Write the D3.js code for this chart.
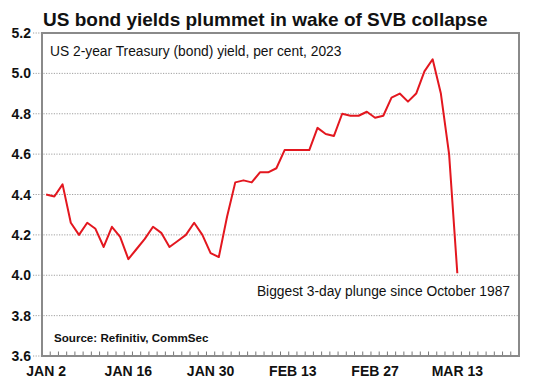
<!DOCTYPE html>
<html>
<head>
<meta charset="utf-8">
<script src="https://cdn.jsdelivr.net/npm/d3@7"></script>
<style>
  html, body { margin: 0; padding: 0; background: #fff; }
  svg { display: block; font-family: "Liberation Sans", Arial, sans-serif; }
</style>
</head>
<body>
<svg id="chart" width="534" height="383"></svg>
<script>
// ---- Data ----
const title = "US bond yields plummet in wake of SVB collapse";
const subtitle = "US 2-year Treasury (bond) yield, per cent, 2023";
const annotation = "Biggest 3-day plunge since October 1987";
const source = "Source: Refinitiv, CommSec";

// business-day categories (axis runs a little past the last observation)
const categories = [
  "2023-01-02","2023-01-03","2023-01-04","2023-01-05","2023-01-06",
  "2023-01-09","2023-01-10","2023-01-11","2023-01-12","2023-01-13",
  "2023-01-16","2023-01-17","2023-01-18","2023-01-19","2023-01-20",
  "2023-01-23","2023-01-24","2023-01-25","2023-01-26","2023-01-27",
  "2023-01-30","2023-01-31","2023-02-01","2023-02-02","2023-02-03",
  "2023-02-06","2023-02-07","2023-02-08","2023-02-09","2023-02-10",
  "2023-02-13","2023-02-14","2023-02-15","2023-02-16","2023-02-17",
  "2023-02-20","2023-02-21","2023-02-22","2023-02-23","2023-02-24",
  "2023-02-27","2023-02-28","2023-03-01","2023-03-02","2023-03-03",
  "2023-03-06","2023-03-07","2023-03-08","2023-03-09","2023-03-10",
  "2023-03-13","2023-03-14","2023-03-15","2023-03-16","2023-03-17",
  "2023-03-20","2023-03-21","2023-03-22"
];

// 2-year yield, per cent (one value per category from Jan 2 to Mar 13)
const yields = [
  4.40, 4.39, 4.45, 4.26, 4.20,
  4.26, 4.23, 4.14, 4.24, 4.19,
  4.08, 4.13, 4.18, 4.24, 4.21,
  4.14, 4.17, 4.20, 4.26, 4.20,
  4.11, 4.09, 4.29, 4.46, 4.47,
  4.46, 4.51, 4.51, 4.53, 4.62,
  4.62, 4.62, 4.62, 4.73, 4.70,
  4.69, 4.80, 4.79, 4.79, 4.81,
  4.78, 4.79, 4.88, 4.90, 4.86,
  4.90, 5.01, 5.07, 4.90, 4.60,
  4.01
];

const xTickDates = ["2023-01-02","2023-01-16","2023-01-30","2023-02-13","2023-02-27","2023-03-13"];
const xTickLabels = ["JAN 2","JAN 16","JAN 30","FEB 13","FEB 27","MAR 13"];
const yTicks = [3.6, 3.8, 4.0, 4.2, 4.4, 4.6, 4.8, 5.0, 5.2];

// ---- Layout ----
const L = 42, R = 519, T = 33, B = 356;
const svg = d3.select("#chart");

const x = d3.scaleBand().domain(categories).range([L, R]).paddingInner(0).paddingOuter(0);
const y = d3.scaleLinear().domain([3.6, 5.2]).range([B, T]);
const cx = d => x(d) + x.bandwidth() / 2;

// title
svg.append("text")
  .attr("x", 43).attr("y", 26)
  .attr("font-size", 19).attr("font-weight", "bold").attr("fill", "#111")
  .text(title);

// gridlines (dotted, extending a little left of the frame)
svg.append("g").selectAll("line").data(yTicks).join("line")
  .attr("x1", 33).attr("x2", R)
  .attr("y1", d => y(d)).attr("y2", d => y(d))
  .attr("stroke", "#a0a0a0").attr("stroke-width", 1)
  .attr("stroke-dasharray", "1.2,1.4");

// y labels
svg.append("g").selectAll("text").data(yTicks).join("text")
  .attr("x", 31).attr("y", d => y(d) + 5)
  .attr("text-anchor", "end")
  .attr("font-size", 14).attr("font-weight", "bold").attr("fill", "#111")
  .text(d => d.toFixed(1));

// x tick marks at category boundaries, pointing up from the bottom axis
const boundaries = categories.slice(1).map(d => x(d));
svg.append("g").selectAll("line").data(boundaries).join("line")
  .attr("x1", d => d).attr("x2", d => d)
  .attr("y1", B).attr("y2", B - 4.5)
  .attr("stroke", "#777").attr("stroke-width", 1);

// frame
svg.append("rect")
  .attr("x", L).attr("y", T).attr("width", R - L).attr("height", B - T)
  .attr("fill", "none").attr("stroke", "#8a8a8a").attr("stroke-width", 2);

// x labels
svg.append("g").selectAll("text").data(xTickDates).join("text")
  .attr("x", d => cx(d)).attr("y", 376)
  .attr("text-anchor", "middle")
  .attr("font-size", 14).attr("font-weight", "bold").attr("fill", "#111")
  .text((d, i) => xTickLabels[i]);

// line
const pts = yields.map((v, i) => [categories[i], v]);
svg.append("path")
  .datum(pts)
  .attr("fill", "none")
  .attr("stroke", "#e3171f")
  .attr("stroke-width", 2)
  .attr("stroke-linejoin", "round")
  .attr("d", d3.line().x(d => cx(d[0])).y(d => y(d[1])));

// texts inside the plot
svg.append("text")
  .attr("x", 50).attr("y", 56)
  .attr("font-size", 13.8).attr("fill", "#111")
  .text(subtitle);

svg.append("text")
  .attr("x", 510).attr("y", 296)
  .attr("text-anchor", "end")
  .attr("font-size", 13.8).attr("fill", "#111")
  .text(annotation);

svg.append("text")
  .attr("x", 54).attr("y", 342)
  .attr("font-size", 11.6).attr("font-weight", "bold").attr("fill", "#111")
  .text(source);
</script>
</body>
</html>
